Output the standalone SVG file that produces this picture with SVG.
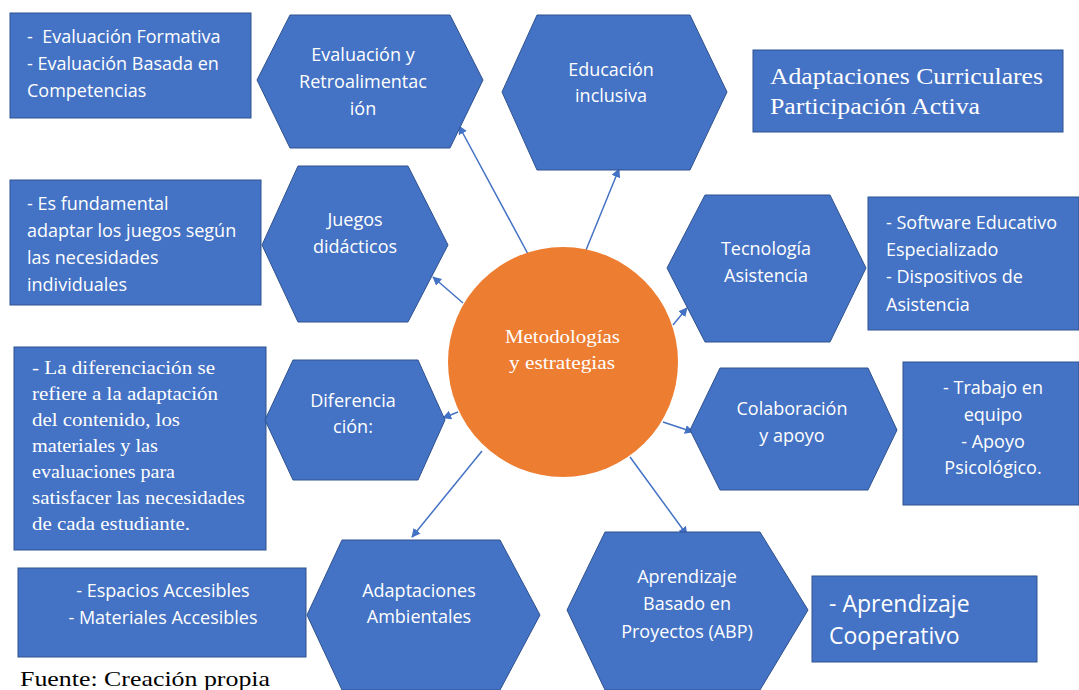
<svg xmlns="http://www.w3.org/2000/svg" width="1079" height="690" viewBox="0 0 1079 690">
<style>
.shape{fill:#4472C4;stroke:#2F528F;stroke-width:1}
.sans{font-family:"Open Sans",Lato,"Liberation Sans",sans-serif;font-size:18px;fill:#FFFFFF}
.big{font-size:23px}
.serif{font-family:"Liberation Serif",serif;fill:#FFFFFF}
.mid{text-anchor:middle}
.conn{stroke:#4472C4;stroke-width:1.5;fill:none;marker-end:url(#arr)}
</style>
<defs>
<marker id="arr" viewBox="0 0 10 10" refX="9" refY="5" markerWidth="9" markerHeight="9" markerUnits="userSpaceOnUse" orient="auto">
<path d="M0,0 L10,5 L0,10 z" fill="#4472C4"/>
</marker>
</defs>
<rect width="1079" height="690" fill="#FFFFFF"/>

<g id="connectors">
<line class="conn" x1="528" y1="254" x2="459" y2="126"/>
<line class="conn" x1="584" y1="255" x2="619" y2="169"/>
<line class="conn" x1="463" y1="303" x2="433" y2="277"/>
<line class="conn" x1="673" y1="325" x2="687" y2="308"/>
<line class="conn" x1="458" y1="412" x2="443" y2="418"/>
<line class="conn" x1="663" y1="422" x2="693" y2="432"/>
<line class="conn" x1="482" y1="451" x2="412" y2="537"/>
<line class="conn" x1="630" y1="457" x2="687" y2="535"/>
</g>

<g id="center">
<circle cx="563" cy="362" r="115" fill="#ED7D31"/>
<text class="serif" font-size="18" x="505" y="343" textLength="115" lengthAdjust="spacingAndGlyphs">Metodologías</text>
<text class="serif" font-size="18" x="509" y="369" textLength="106" lengthAdjust="spacingAndGlyphs">y estrategias</text>
</g>

<g id="box-evaluacion">
<rect class="shape" x="10" y="13" width="241" height="105"/>
<text class="sans" x="27" y="43" xml:space="preserve">-  Evaluación Formativa</text>
<text class="sans" x="27" y="70">- Evaluación Basada en</text>
<text class="sans" x="27" y="97">Competencias</text>
</g>

<g id="hex-evaluacion">
<polygon class="shape" points="290,15 450,15 483,80 450,148 290,148 257,80"/>
<text class="sans mid" x="363" y="61">Evaluación y</text>
<text class="sans mid" x="363" y="88">Retroalimentac</text>
<text class="sans mid" x="363" y="115">ión</text>
</g>

<g id="hex-educacion">
<polygon class="shape" points="537,15 690,15 727,92 690,170 537,170 502,92"/>
<text class="sans mid" x="611" y="76">Educación</text>
<text class="sans mid" x="611" y="102">inclusiva</text>
</g>

<g id="box-adaptaciones">
<rect class="shape" x="753" y="50" width="310" height="82"/>
<text class="serif" font-size="24" x="770" y="84" textLength="273" lengthAdjust="spacingAndGlyphs">Adaptaciones Curriculares</text>
<text class="serif" font-size="24" x="770" y="114" textLength="210" lengthAdjust="spacingAndGlyphs">Participación Activa</text>
</g>

<g id="box-juegos">
<rect class="shape" x="10" y="180" width="251" height="125"/>
<text class="sans" x="27" y="210">- Es fundamental</text>
<text class="sans" x="27" y="237">adaptar los juegos según</text>
<text class="sans" x="27" y="264">las necesidades</text>
<text class="sans" x="27" y="291">individuales</text>
</g>

<g id="hex-juegos">
<polygon class="shape" points="298,166 408,166 448,245 408,322 298,322 262,245"/>
<text class="sans mid" x="355" y="226">Juegos</text>
<text class="sans mid" x="355" y="253">didácticos</text>
</g>

<g id="hex-tecnologia">
<polygon class="shape" points="705,195 830,195 866,268 830,342 705,342 667,268"/>
<text class="sans mid" x="766" y="255">Tecnología</text>
<text class="sans mid" x="766" y="282">Asistencia</text>
</g>

<g id="box-tecnologia">
<rect class="shape" x="868" y="197" width="211" height="133"/>
<text class="sans" x="886" y="229">- Software Educativo</text>
<text class="sans" x="886" y="256">Especializado</text>
<text class="sans" x="886" y="283">- Dispositivos de</text>
<text class="sans" x="886" y="311">Asistencia</text>
</g>

<g id="box-diferenciacion">
<rect class="shape" x="14" y="347" width="252" height="203"/>
<text class="serif" font-size="18" x="32" y="374" textLength="183" lengthAdjust="spacingAndGlyphs">- La diferenciación se</text>
<text class="serif" font-size="18" x="32" y="400" textLength="186" lengthAdjust="spacingAndGlyphs">refiere a la adaptación</text>
<text class="serif" font-size="18" x="32" y="426" textLength="148" lengthAdjust="spacingAndGlyphs">del contenido, los</text>
<text class="serif" font-size="18" x="32" y="452" textLength="126" lengthAdjust="spacingAndGlyphs">materiales y las</text>
<text class="serif" font-size="18" x="32" y="478" textLength="143" lengthAdjust="spacingAndGlyphs">evaluaciones para</text>
<text class="serif" font-size="18" x="32" y="504" textLength="213" lengthAdjust="spacingAndGlyphs">satisfacer las necesidades</text>
<text class="serif" font-size="18" x="32" y="530" textLength="158" lengthAdjust="spacingAndGlyphs">de cada estudiante.</text>
</g>

<g id="hex-diferenciacion">
<polygon class="shape" points="293,360 418,360 445,420 418,480 293,480 265,420"/>
<text class="sans mid" x="353" y="407">Diferencia</text>
<text class="sans mid" x="353" y="433">ción:</text>
</g>

<g id="hex-colaboracion">
<polygon class="shape" points="720,368 868,368 897,430 868,490 720,490 690,430"/>
<text class="sans mid" x="792" y="415">Colaboración</text>
<text class="sans mid" x="792" y="442">y apoyo</text>
</g>

<g id="box-colaboracion">
<rect class="shape" x="903" y="362" width="176" height="143"/>
<text class="sans mid" x="993" y="394">- Trabajo en</text>
<text class="sans mid" x="993" y="421">equipo</text>
<text class="sans mid" x="993" y="448">- Apoyo</text>
<text class="sans mid" x="993" y="474">Psicológico.</text>
</g>

<g id="box-ambientales">
<rect class="shape" x="18" y="568" width="288" height="89"/>
<text class="sans mid" x="163" y="597">- Espacios Accesibles</text>
<text class="sans mid" x="163" y="624">- Materiales Accesibles</text>
</g>

<g id="hex-ambientales">
<polygon class="shape" points="342,540 500,540 540,615 500,690 342,690 307,615"/>
<text class="sans mid" x="419" y="597">Adaptaciones</text>
<text class="sans mid" x="419" y="623">Ambientales</text>
</g>

<g id="hex-abp">
<polygon class="shape" points="605,532 760,532 808,610 760,690 605,690 567,610"/>
<text class="sans mid" x="687" y="583">Aprendizaje</text>
<text class="sans mid" x="687" y="610">Basado en</text>
<text class="sans mid" x="687" y="638">Proyectos (ABP)</text>
</g>

<g id="box-abp">
<rect class="shape" x="812" y="576" width="225" height="86"/>
<text class="sans big" x="829" y="612">- Aprendizaje</text>
<text class="sans big" x="829" y="644">Cooperativo</text>
</g>

<text x="20" y="686" font-family="'Liberation Serif',serif" font-size="22" fill="#000000" textLength="250" lengthAdjust="spacingAndGlyphs">Fuente: Creación propia</text>
</svg>
